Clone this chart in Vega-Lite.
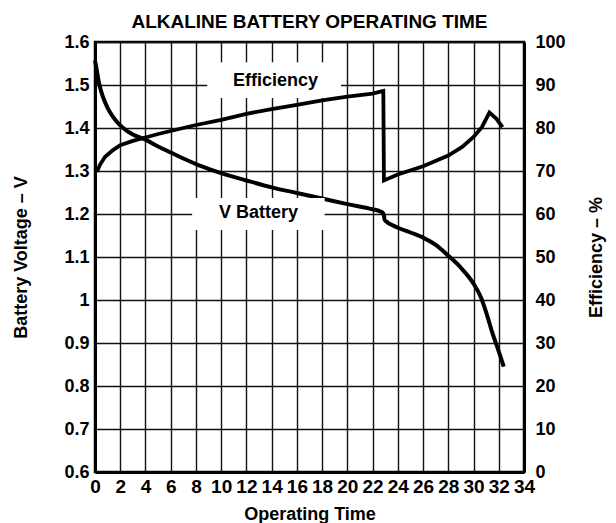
{
  "$schema": "https://vega.github.io/schema/vega-lite/v6.json",
  "width": 429,
  "height": 430,
  "autosize": {"type": "none"},
  "padding": {"left": 95, "top": 42, "right": 92, "bottom": 51},
  "background": "white",
  "title": {
    "text": "ALKALINE BATTERY OPERATING TIME",
    "font": "Liberation Sans",
    "fontSize": 19,
    "fontWeight": "bold",
    "color": "black",
    "anchor": "middle",
    "offset": 1
  },
  "config": {
    "view": {"stroke": "black", "strokeWidth": 2.5},
    "axis": {
      "labelFont": "Liberation Sans",
      "labelFontSize": 18,
      "labelFontWeight": "bold",
      "labelColor": "black",
      "titleFont": "Liberation Sans",
      "titleFontSize": 18,
      "titleFontWeight": "bold",
      "titleColor": "black",
      "ticks": false,
      "domain": true,
      "domainColor": "black",
      "domainWidth": 3,
      "gridColor": "#111111",
      "gridWidth": 1.4,
      "gridOpacity": 1,
      "labelOverlap": false,
      "labelFlush": false
    }
  },
  "datasets": {
    "voltage": [
      {"t": 0, "v": 1.557}, {"t": 0.15, "v": 1.533}, {"t": 0.3, "v": 1.507},
      {"t": 0.5, "v": 1.484}, {"t": 0.7, "v": 1.467}, {"t": 1.0, "v": 1.447},
      {"t": 1.2, "v": 1.436}, {"t": 1.6, "v": 1.419}, {"t": 2.0, "v": 1.406},
      {"t": 2.5, "v": 1.394}, {"t": 3.0, "v": 1.385}, {"t": 4.0, "v": 1.373},
      {"t": 5.0, "v": 1.357}, {"t": 6.0, "v": 1.343}, {"t": 7.0, "v": 1.329},
      {"t": 8.0, "v": 1.316}, {"t": 9.0, "v": 1.305}, {"t": 10, "v": 1.295},
      {"t": 12, "v": 1.278}, {"t": 14, "v": 1.262}, {"t": 16, "v": 1.249},
      {"t": 18, "v": 1.236}, {"t": 20, "v": 1.223}, {"t": 22, "v": 1.211},
      {"t": 22.6, "v": 1.206}, {"t": 22.8, "v": 1.203}, {"t": 22.9, "v": 1.196},
      {"t": 22.95, "v": 1.187}, {"t": 23.2, "v": 1.18}, {"t": 23.5, "v": 1.175},
      {"t": 24, "v": 1.168}, {"t": 25, "v": 1.157}, {"t": 26, "v": 1.145},
      {"t": 27, "v": 1.128}, {"t": 28, "v": 1.103}, {"t": 29, "v": 1.075},
      {"t": 30, "v": 1.038}, {"t": 30.6, "v": 1.005}, {"t": 31.1, "v": 0.962},
      {"t": 31.5, "v": 0.923}, {"t": 31.9, "v": 0.889}, {"t": 32.4, "v": 0.845}
    ],
    "efficiency": [
      {"t": 0.15, "eff": 69.8}, {"t": 0.4, "eff": 71.5}, {"t": 0.8, "eff": 73.3},
      {"t": 1.4, "eff": 74.8}, {"t": 2, "eff": 76.0}, {"t": 3, "eff": 77.0},
      {"t": 4, "eff": 77.8}, {"t": 5, "eff": 78.6}, {"t": 6, "eff": 79.3},
      {"t": 7, "eff": 80.0}, {"t": 8, "eff": 80.7}, {"t": 10, "eff": 81.9},
      {"t": 12, "eff": 83.3}, {"t": 14, "eff": 84.4}, {"t": 16, "eff": 85.4},
      {"t": 18, "eff": 86.4}, {"t": 20, "eff": 87.3}, {"t": 22, "eff": 88.0},
      {"t": 22.85, "eff": 88.6}, {"t": 22.9, "eff": 67.8}, {"t": 24, "eff": 69.2},
      {"t": 26, "eff": 71.1}, {"t": 28, "eff": 73.6}, {"t": 29.1, "eff": 75.6},
      {"t": 30, "eff": 77.9}, {"t": 30.66, "eff": 80.2}, {"t": 31.26, "eff": 83.6},
      {"t": 31.8, "eff": 82.2}, {"t": 32.3, "eff": 80.2}
    ],
    "labels": [
      {"label": "Efficiency", "t": 14.3, "v": 1.509, "t1": 8.9, "t2": 19.5, "v1": 1.47, "v2": 1.553},
      {"label": "V Battery", "t": 12.95, "v": 1.202, "t1": 7.7, "t2": 18.2, "v1": 1.163, "v2": 1.237}
    ]
  },
  "layer": [
    {
      "layer": [
        {
          "data": {"name": "voltage"},
          "mark": {"type": "line", "color": "black", "strokeWidth": 4, "interpolate": "monotone"},
          "encoding": {
            "x": {
              "field": "t", "type": "quantitative",
              "scale": {"domain": [0, 34], "nice": false},
              "axis": {"title": "Operating Time", "values": [0, 2, 4, 6, 8, 10, 12, 14, 16, 18, 20, 22, 24, 26, 28, 30, 32, 34], "labelFontSize": 19, "labelPadding": 5, "titlePadding": 9, "grid": true}
            },
            "y": {
              "field": "v", "type": "quantitative",
              "scale": {"domain": [0.6, 1.6], "nice": false, "zero": false},
              "axis": {"title": "Battery Voltage – V", "orient": "left", "values": [0.6, 0.7, 0.8, 0.9, 1.0, 1.1, 1.2, 1.3, 1.4, 1.5, 1.6], "format": ".1~f", "labelPadding": 6, "titlePadding": 33, "grid": true}
            }
          }
        },
        {
          "data": {"name": "labels"},
          "mark": {"type": "rect", "fill": "white", "strokeWidth": 0},
          "encoding": {
            "x": {"field": "t1", "type": "quantitative",
              "axis": {"title": "Operating Time", "values": [0, 2, 4, 6, 8, 10, 12, 14, 16, 18, 20, 22, 24, 26, 28, 30, 32, 34], "labelFontSize": 19, "labelPadding": 5, "titlePadding": 9, "grid": true}},
            "x2": {"field": "t2"},
            "y": {"field": "v1", "type": "quantitative",
              "axis": {"title": "Battery Voltage – V", "orient": "left", "values": [0.6, 0.7, 0.8, 0.9, 1.0, 1.1, 1.2, 1.3, 1.4, 1.5, 1.6], "format": ".1~f", "labelPadding": 6, "titlePadding": 33, "grid": true}},
            "y2": {"field": "v2"}
          }
        },
        {
          "data": {"name": "labels"},
          "mark": {"type": "text", "font": "Liberation Sans", "fontSize": 18, "fontWeight": "bold", "color": "black", "baseline": "middle", "align": "center"},
          "encoding": {
            "x": {"field": "t", "type": "quantitative",
              "axis": {"title": "Operating Time", "values": [0, 2, 4, 6, 8, 10, 12, 14, 16, 18, 20, 22, 24, 26, 28, 30, 32, 34], "labelFontSize": 19, "labelPadding": 5, "titlePadding": 9, "grid": true}},
            "y": {"field": "v", "type": "quantitative",
              "axis": {"title": "Battery Voltage – V", "orient": "left", "values": [0.6, 0.7, 0.8, 0.9, 1.0, 1.1, 1.2, 1.3, 1.4, 1.5, 1.6], "format": ".1~f", "labelPadding": 6, "titlePadding": 33, "grid": true}},
            "text": {"field": "label"}
          }
        }
      ]
    },
    {
      "data": {"name": "efficiency"},
      "mark": {"type": "line", "color": "black", "strokeWidth": 3.8},
      "encoding": {
        "x": {"field": "t", "type": "quantitative",
          "axis": {"title": "Operating Time", "values": [0, 2, 4, 6, 8, 10, 12, 14, 16, 18, 20, 22, 24, 26, 28, 30, 32, 34], "labelFontSize": 19, "labelPadding": 5, "titlePadding": 9, "grid": true}},
        "y": {
          "field": "eff", "type": "quantitative",
          "scale": {"domain": [0, 100], "nice": false},
          "axis": {"title": "Efficiency – %", "orient": "right", "values": [0, 10, 20, 30, 40, 50, 60, 70, 80, 90, 100], "labelPadding": 11, "titlePadding": 40, "titleAngle": -90, "grid": false}
        }
      }
    }
  ],
  "resolve": {"scale": {"y": "independent"}}
}
